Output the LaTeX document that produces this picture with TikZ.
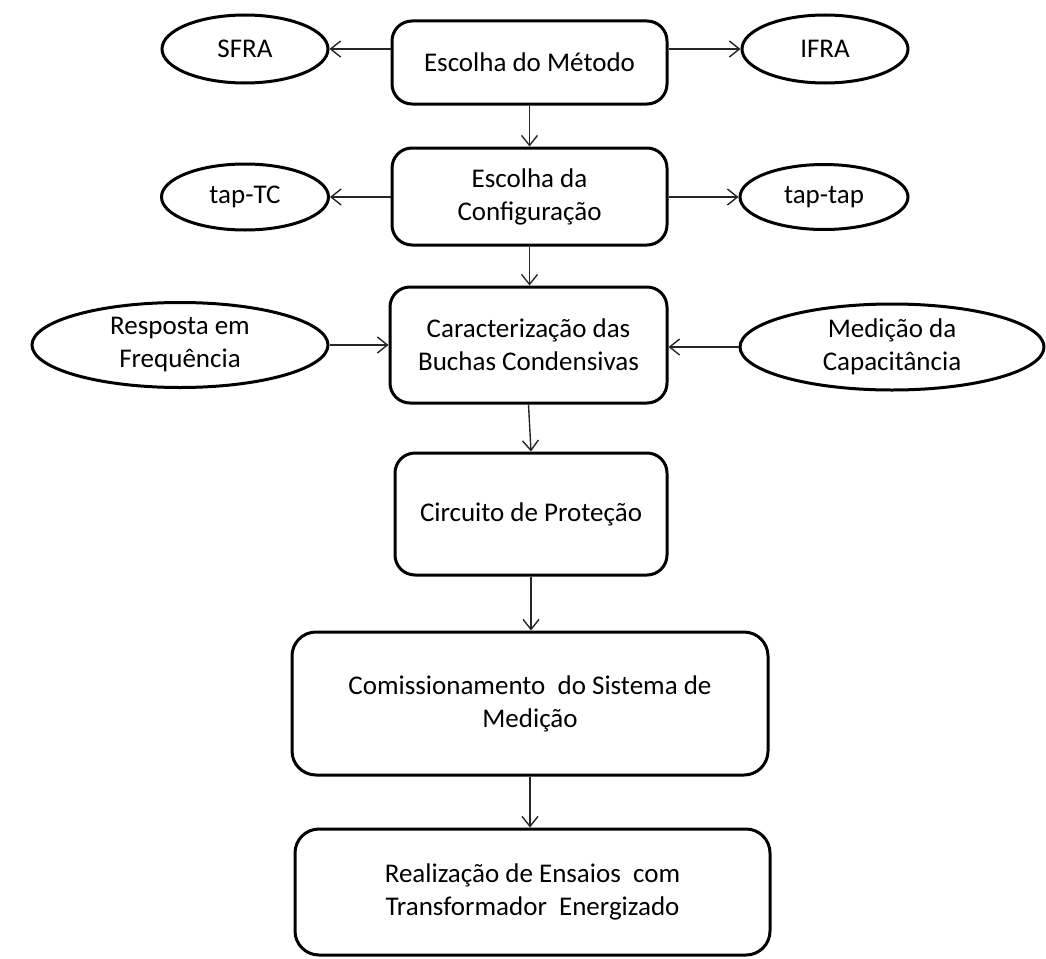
\documentclass[tikz,border=0pt]{standalone}
\usepackage{fontspec}
\setmainfont{Carlito}
\usetikzlibrary{shapes.geometric,arrows.meta}
\tikzset{
  box/.style={draw=black, line width=3pt, rounded corners=20pt, align=center, inner sep=0pt, fill=white},
  oval/.style={draw=black, ellipse, line width=3pt, align=center, inner sep=0pt, fill=white},
  conn/.style={line width=1.4pt, draw=black!85, -{Straight Barb[length=10pt,width=16pt,line width=1.4pt]}},
}
\begin{document}
\begin{tikzpicture}[x=1pt, y=-1pt, font=\fontsize{27}{33}\selectfont]
\useasboundingbox (0,0) rectangle (1046,958);
% main boxes
\node[box, minimum width=275pt, minimum height=83pt] (b1) at (529.5,62.5) {Escolha do Método};
\node[box, minimum width=275pt, minimum height=97pt] (b2) at (529.5,196.5) {Escolha da\\Configuração};
\node[box, minimum width=277pt, minimum height=116pt] (b3) at (528.5,345) {Caracterização das\\Buchas Condensivas};
\node[box, minimum width=272pt, minimum height=122pt] (b4) at (531,514) {Circuito de Proteção};
\node[box, rounded corners=24pt, minimum width=476pt, minimum height=143pt] (b5) at (530,703.5) {Comissionamento \ do Sistema de\\Medição};
\node[box, rounded corners=24pt, minimum width=475pt, minimum height=126pt] (b6) at (532.5,892) {Realização de Ensaios \ com\\Transformador \ Energizado};
% ellipses
\node[oval, minimum width=166pt, minimum height=68pt] (sfra) at (245,49) {\raisebox{-3pt}{SFRA}};
\node[oval, minimum width=166pt, minimum height=68pt] (ifra) at (825,49) {\raisebox{-3pt}{IFRA}};
\node[oval, minimum width=167pt, minimum height=66pt] (taptc) at (245,197) {tap-TC};
\node[oval, minimum width=168pt, minimum height=65pt] (taptap) at (824,197) {tap-tap};
\node[oval, minimum width=296pt, minimum height=85pt] (resp) at (180,345) {Resposta em\\Frequência};
\node[oval, minimum width=304pt, minimum height=86pt] (med) at (892,347) {Medição da\\Capacitância};
% connectors
\draw[conn] (b1.west |- sfra.east) -- (sfra.east);
\draw[conn] (b1.east |- ifra.west) -- (ifra.west);
\draw[conn] (b2.west |- taptc.east) -- (taptc.east);
\draw[conn] (b2.east |- taptap.west) -- (taptap.west);
\draw[conn] (resp.east) -- (resp.east -| b3.west);
\draw[conn] (med.west) -- (med.west -| b3.east);
\draw[conn] (b1.south) -- (b2.north);
\draw[conn] (b2.south) -- (b2.south |- b3.north);
\draw[conn] (b3.south) -- (b4.north);
\draw[conn] (b4.south) -- (b4.south |- b5.north);
\draw[conn] (b5.south) -- (b5.south |- b6.north);
\end{tikzpicture}
\end{document}
